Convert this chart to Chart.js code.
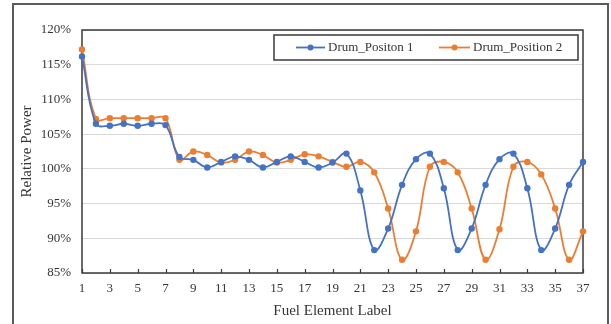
<!DOCTYPE html>
<html>
<head>
<meta charset="utf-8">
<script src="https://cdn.jsdelivr.net/npm/chart.js@4.4.1/dist/chart.umd.min.js"></script>
<style>
  html, body { margin: 0; padding: 0; background: #fff; }
</style>
</head>
<body>
<canvas id="powerChart" width="611" height="324"></canvas>
<script>
// fuel element labels 1..37
const elementLabels = ['1','2','3','4','5','6','7','8','9','10','11','12','13','14','15','16','17','18','19',
  '20','21','22','23','24','25','26','27','28','29','30','31','32','33','34','35','36','37'];

const drumPosition1 = [116.2, 106.5, 106.2, 106.5, 106.2, 106.5, 106.3, 101.7, 101.3, 100.2,
  101.0, 101.8, 101.3, 100.2, 101.0, 101.8, 101.0, 100.2, 100.9, 102.2,
  96.9, 88.3, 91.4, 97.7, 101.4, 102.2, 97.2, 88.3, 91.4, 97.7,
  101.4, 102.2, 97.2, 88.3, 91.4, 97.7, 101.0];

const drumPosition2 = [117.2, 107.2, 107.3, 107.3, 107.3, 107.3, 107.3, 101.3, 102.5, 102.0,
  100.9, 101.3, 102.5, 102.0, 100.9, 101.3, 102.1, 101.8, 101.0, 100.3,
  101.0, 99.5, 94.3, 86.9, 91.0, 100.3, 101.0, 99.5, 94.3, 86.9,
  91.3, 100.3, 101.0, 99.2, 94.3, 86.9, 91.0];

const seriesNames = ['Drum_Positon 1', 'Drum_Position 2'];
const seriesColors = ['#4472C4', '#ED7D31'];

const yMin = 85, yMax = 120, yStep = 5;

const FONT = '"Liberation Serif", "Times New Roman", serif';
const TEXT = '#363636';

// frame, plot border, inward x ticks and boxed legend
const decorPlugin = {
  id: 'decor',
  beforeDraw(chart) {
    const ctx = chart.ctx;
    ctx.save();
    ctx.fillStyle = '#fff';
    ctx.fillRect(0, 0, chart.width, chart.height);
    ctx.strokeStyle = '#5a5a5a';
    ctx.lineWidth = 2;
    ctx.strokeRect(13, 4, 595, 330);
    ctx.restore();
  },
  beforeDatasetsDraw(chart) {
    const { ctx, chartArea: a, scales: { x } } = chart;
    ctx.save();
    ctx.strokeStyle = '#3a3a3a';
    ctx.lineWidth = 1.5;
    ctx.strokeRect(a.left, a.top, a.right - a.left, a.bottom - a.top);
    ctx.lineWidth = 1.2;
    ctx.beginPath();
    for (let i = 0; i < elementLabels.length; i += 2) {
      const px = Math.round(x.getPixelForTick(i)) + 0.5;
      ctx.moveTo(px, a.bottom);
      ctx.lineTo(px, a.bottom - 4);
    }
    ctx.stroke();
    ctx.restore();
  },
  afterDraw(chart) {
    const ctx = chart.ctx;
    ctx.save();
    ctx.strokeStyle = '#3a3a3a';
    ctx.lineWidth = 1.5;
    ctx.fillStyle = '#fff';
    ctx.fillRect(274, 35, 304, 25);
    ctx.strokeRect(274, 35, 304, 25);
    const items = [{ x0: 296, x1: 325, tx: 328 }, { x0: 439, x1: 470, tx: 473 }];
    const cy = 47.5;
    ctx.font = '13px ' + FONT;
    ctx.textBaseline = 'middle';
    chart.data.datasets.forEach((ds, i) => {
      const it = items[i];
      ctx.strokeStyle = ds.borderColor;
      ctx.lineWidth = 1.8;
      ctx.beginPath();
      ctx.moveTo(it.x0, cy);
      ctx.lineTo(it.x1, cy);
      ctx.stroke();
      ctx.fillStyle = ds.backgroundColor;
      ctx.beginPath();
      ctx.arc((it.x0 + it.x1) / 2, cy, 3, 0, Math.PI * 2);
      ctx.fill();
      ctx.fillStyle = TEXT;
      ctx.fillText(ds.label, it.tx, cy);
    });
    ctx.restore();
  }
};

new Chart(document.getElementById('powerChart').getContext('2d'), {
  type: 'line',
  data: {
    labels: elementLabels,
    datasets: [drumPosition1, drumPosition2].map((vals, i) => ({
      label: seriesNames[i],
      data: vals,
      borderColor: seriesColors[i],
      backgroundColor: seriesColors[i],
      borderWidth: 1.8,
      pointRadius: 3.2,
      pointBorderWidth: 0,
      tension: 0.4,
      fill: false
    }))
  },
  options: {
    responsive: false,
    animation: false,
    devicePixelRatio: 1,
    layout: { padding: { left: 13, right: 28, top: 30, bottom: 0 } },
    plugins: {
      legend: { display: false },
      tooltip: { enabled: false }
    },
    scales: {
      x: {
        grid: { display: false, drawTicks: false },
        border: { display: false },
        ticks: {
          autoSkip: false,
          maxRotation: 0,
          padding: 8,
          color: TEXT,
          font: { family: FONT, size: 13 },
          callback: function (v, i) { return i % 2 === 0 ? elementLabels[i] : ''; }
        },
        title: {
          display: true,
          text: 'Fuel Element Label',
          color: TEXT,
          font: { family: FONT, size: 15 },
          padding: { top: 4, bottom: 4 }
        },
        afterFit(scale) { scale.height = 51; }
      },
      y: {
        min: yMin,
        max: yMax,
        grid: { color: '#d9d9d9', lineWidth: 1, drawTicks: false },
        border: { display: false },
        ticks: {
          stepSize: yStep,
          padding: 11,
          color: TEXT,
          font: { family: FONT, size: 13 },
          callback: v => v + '%'
        },
        title: {
          display: true,
          text: 'Relative Power',
          color: TEXT,
          font: { family: FONT, size: 15 },
          padding: { top: 5, bottom: 0 }
        },
        afterFit(scale) { scale.width = 69; }
      }
    }
  },
  plugins: [decorPlugin]
});
</script>
</body>
</html>
